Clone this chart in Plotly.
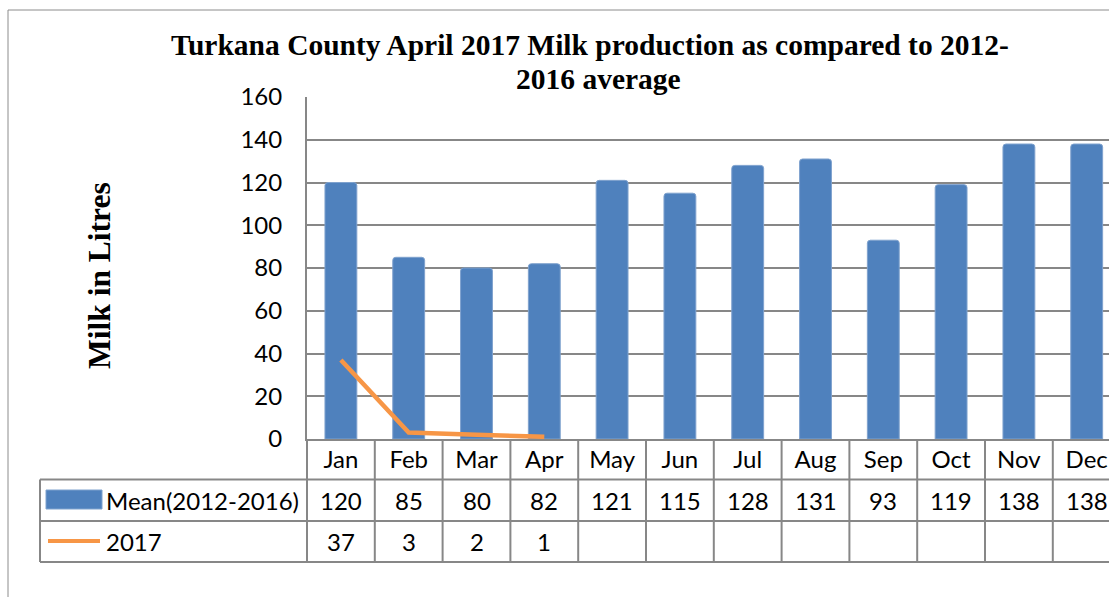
import plotly.graph_objects as go

months = ["Jan", "Feb", "Mar", "Apr", "May", "Jun", "Jul", "Aug", "Sep", "Oct", "Nov", "Dec"]
mean_2012_2016 = [120, 85, 80, 82, 121, 115, 128, 131, 93, 119, 138, 138]
months_2017 = ["Jan", "Feb", "Mar", "Apr"]
values_2017 = [37, 3, 2, 1]
y_ticks = [0, 20, 40, 60, 80, 100, 120, 140, 160]

W, H = 1109, 597
L, R, T, B = 307, 1109, 97, 439
CAT_W = 67.8
GRID = "#878787"
BLUE = "#4F81BD"
ORANGE = "#F79646"
SANS = "Lato, Calibri, Carlito, sans-serif"
SERIF = "Liberation Serif, Times New Roman, serif"
FS = 24


def px(x):
    return (x - L) / (R - L)


def py(y):
    return (B - y) / (B - T)


x_max = -0.5 + (R - L) / CAT_W
idx = list(range(len(months)))

fig = go.Figure()
fig.add_trace(go.Bar(
    x=idx, y=mean_2012_2016, width=0.47,
    marker=dict(color=BLUE, line=dict(color="#7FA2CE", width=1), cornerradius=3),
    name="Mean(2012-2016)", showlegend=False,
))
fig.add_trace(go.Scatter(
    x=[months.index(m) for m in months_2017], y=values_2017, mode="lines",
    line=dict(color=ORANGE, width=4.5), name="2017", showlegend=False,
))

shapes = []
shapes.append(dict(type="rect", xref="paper", yref="paper", x0=px(8), x1=px(1300), y0=py(10), y1=py(800),
                   line=dict(color="#8C8C8C", width=1), fillcolor="rgba(0,0,0,0)", layer="below"))
for yy in [479.5, 521, 562]:
    shapes.append(dict(type="line", xref="paper", yref="paper", x0=px(40), x1=1.02, y0=py(yy), y1=py(yy),
                       line=dict(color=GRID, width=2)))
shapes.append(dict(type="line", xref="paper", yref="paper", x0=px(40), x1=px(40), y0=py(479.5), y1=py(562),
                   line=dict(color=GRID, width=2)))
shapes.append(dict(type="line", xref="paper", yref="paper", x0=0, x1=0, y0=py(439), y1=py(562),
                   line=dict(color=GRID, width=2)))
for k in range(1, len(months) + 1):
    xb = k - 0.5
    if xb < x_max:
        shapes.append(dict(type="line", xref="x", yref="paper", x0=xb, x1=xb, y0=py(439), y1=py(562),
                           line=dict(color=GRID, width=2)))
shapes.append(dict(type="rect", xref="paper", yref="paper", x0=px(46), x1=px(102), y0=py(509), y1=py(490),
                   line=dict(color="#7FA2CE", width=1), fillcolor=BLUE))
shapes.append(dict(type="line", xref="paper", yref="paper", x0=px(48), x1=px(100), y0=py(541), y1=py(541),
                   line=dict(color=ORANGE, width=4)))

annotations = []
title_font = dict(family=SERIF, size=29.5, color="black", weight="bold")
annotations.append(dict(
    text="Turkana County April 2017 Milk production as compared to 2012-",
    xref="paper", yref="paper", x=px(590), y=py(45), xanchor="center", yanchor="middle",
    showarrow=False, font=title_font,
))
annotations.append(dict(
    text="2016 average",
    xref="paper", yref="paper", x=px(598), y=py(79), xanchor="center", yanchor="middle",
    showarrow=False, font=title_font,
))
annotations.append(dict(
    text="Milk in Litres", xref="paper", yref="paper", x=px(99), y=py(276), textangle=-90,
    xanchor="center", yanchor="middle", showarrow=False,
    font=dict(family=SERIF, size=31.5, color="black", weight="bold"),
))
annotations.append(dict(text="Mean(2012-2016)", xref="paper", yref="paper", x=px(104), y=py(500),
                        xanchor="left", yanchor="middle", showarrow=False,
                        font=dict(family=SANS, size=FS, color="black")))
annotations.append(dict(text="2017", xref="paper", yref="paper", x=px(104), y=py(541.5),
                        xanchor="left", yanchor="middle", showarrow=False,
                        font=dict(family=SANS, size=FS, color="black")))
for i, v in enumerate(mean_2012_2016):
    annotations.append(dict(text=str(v), xref="x", yref="paper", x=i, y=py(500), xanchor="center",
                            yanchor="middle", showarrow=False, font=dict(family=SANS, size=FS, color="black")))
for m, v in zip(months_2017, values_2017):
    annotations.append(dict(text=str(v), xref="x", yref="paper", x=months.index(m), y=py(541.5), xanchor="center",
                            yanchor="middle", showarrow=False, font=dict(family=SANS, size=FS, color="black")))

fig.update_layout(
    width=W, height=H,
    margin=dict(l=L, r=W - R, t=T, b=H - B, pad=0),
    paper_bgcolor="white", plot_bgcolor="white",
    xaxis=dict(range=[-0.5, x_max], tickmode="array", tickvals=idx, ticktext=months,
               showgrid=False, zeroline=False, showline=True, linecolor=GRID, linewidth=2,
               ticks="", tickfont=dict(family=SANS, size=FS, color="black"), ticklabelstandoff=-2),
    yaxis=dict(range=[0, 160], tickmode="array", tickvals=y_ticks, showgrid=True, gridcolor=GRID, gridwidth=2,
               zeroline=False, showline=True, linecolor=GRID, linewidth=2, ticks="",
               tickfont=dict(family=SANS, size=FS, color="black"), ticklabelstandoff=18),
    shapes=shapes, annotations=annotations, bargap=0.5,
)

fig.write_html("out.html")
